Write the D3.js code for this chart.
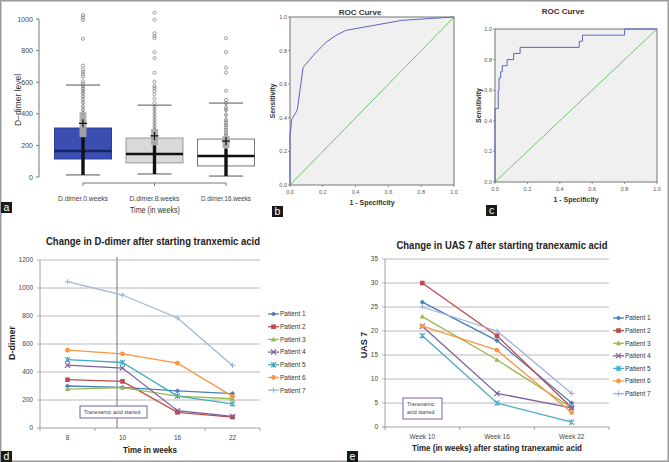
<!DOCTYPE html>
<html><head><meta charset="utf-8">
<script src="https://cdn.jsdelivr.net/npm/d3@7"></script>
<style>
html,body{margin:0;padding:0;background:#fff;}
svg{display:block;}
text{font-family:"Liberation Sans",Arial,sans-serif;}
</style></head>
<body>
<svg id="fig" width="669" height="462"></svg>
<script>
// ---------- DATA ----------
// Panel a: box plots of D-dimer
const boxCats = ["D.dimer.0.weeks","D.dimer.8.weeks","D.dimer.16.weeks"];
const boxQ1 = [114, 89, 70];
const boxMedian = [165, 146, 133];
const boxQ3 = [310, 247, 240];
const boxLow = [13, 19, 6];
const boxHigh = [582, 455, 468];
const boxMean = [340, 260, 227];
const boxCiLow = [253, 203, 183];
const boxCiHigh = [410, 304, 259];
const boxDenseTop = [250, 200, 180];
const boxPoints0 = [1025,1010,995,875,705,680,665,650,635,605,590,575,560,545,530,510,490,470,445,425,405,390,370,355,335,320,300,285,270];
const boxPoints1 = [1040,995,910,892,878,790,752,660,603,576,561,546,525,497,468,445,424,403,382,361,340,319,300,285,270,255,240,225,210];
const boxPoints2 = [878,790,692,661,546,487,468,440,424,392,361,345,329,313,297,280,265,250,235,220,205,190];
const boxAxisTicks = [0,200,400,600,800,1000];

// Panel b & c: ROC curves
const rocTicks = [0,0.2,0.4,0.6,0.8,1.0];
const rocB = [[0,0],[0,0.30],[0.005,0.33],[0.01,0.39],[0.035,0.43],[0.045,0.45],[0.08,0.70],[0.15,0.78],[0.22,0.85],[0.28,0.89],[0.34,0.92],[0.68,0.98],[1,1]];
const rocC = [[0,0],[0,0.48],[0.02,0.48],[0.02,0.60],[0.025,0.60],[0.025,0.68],[0.035,0.68],[0.035,0.72],[0.045,0.72],[0.045,0.76],[0.075,0.76],[0.075,0.80],[0.115,0.80],[0.115,0.84],[0.155,0.84],[0.155,0.88],[0.52,0.88],[0.52,0.92],[0.54,0.92],[0.54,0.96],[0.80,0.96],[0.80,1.0],[1,1]];

// Panel d: D-dimer per patient
const patients = ["Patient 1","Patient 2","Patient 3","Patient 4","Patient 5","Patient 6","Patient 7"];
const patientColors = ["#4a7ebb","#be4b48","#98b954","#7d60a0","#46aac5","#f79646","#9db5dd"];
const patientMarkers = ["diamond","square","triangle","cross","star","circle","plus"];
const dWeeks = ["8","10","16","22"];
const dP1 = [300, 290, 265, 246];
const dP2 = [345, 333, 112, 78];
const dP3 = [278, 289, 228, 209];
const dP4 = [449, 428, 124, 83];
const dP5 = [488, 468, 228, 173];
const dP6 = [556, 530, 463, 226];
const dP7 = [1045, 950, 786, 447];
const dTicks = [0,200,400,600,800,1000,1200];
const dStartIndex = 0.9; // tranexamic acid start (category index)

// Panel e: UAS 7 per patient
const eWeeks = ["Week 10","Week 16","Week 22"];
const eP1 = [26, 18, 5];
const eP2 = [30, 19, 4];
const eP3 = [23, 14, 4];
const eP4 = [21, 7, 4];
const eP5 = [19, 5, 1];
const eP6 = [21, 16, 3];
const eP7 = [25, 20, 7];
const eTicks = [0,5,10,15,20,25,30,35];

// ---------- DRAW ----------
const svg = d3.select("#fig");
svg.append("rect").attr("x",0.75).attr("y",0.75).attr("width",667.5).attr("height",460.5)
  .attr("fill","#fff").attr("stroke","#9a9a9a").attr("stroke-width",1.5);

function fit(sel, w){ sel.attr("textLength", w).attr("lengthAdjust","spacingAndGlyphs"); return sel; }
function panelLabel(x,y,ch){
  svg.append("rect").attr("x",x).attr("y",y).attr("width",11).attr("height",11).attr("fill","#1a1a1a");
  svg.append("text").attr("x",x+5.5).attr("y",y+9.2).attr("text-anchor","middle")
    .attr("font-size",10.5).attr("fill","#fff").text(ch);
}

// ===== Panel a =====
(function(){
  const g = svg.append("g");
  const ya = d3.scaleLinear().domain([0,1000]).range([177,19]);
  const xa = d3.scalePoint().domain(boxCats).range([83,226]);
  const narrow = "'Liberation Sans Narrow','Arial Narrow',sans-serif";
  // y axis
  g.append("line").attr("x1",39).attr("x2",39).attr("y1",ya(0)).attr("y2",ya(1000)).attr("stroke","#777");
  boxAxisTicks.forEach(t=>{
    g.append("line").attr("x1",36).attr("x2",39).attr("y1",ya(t)).attr("y2",ya(t)).attr("stroke","#777");
    g.append("text").attr("x",33).attr("y",ya(t)+2.5).attr("text-anchor","end").attr("font-size",7)
      .attr("font-family",narrow).attr("fill","#444").text(t);
  });
  g.append("text").attr("transform","translate(21,100) rotate(-90)").attr("text-anchor","middle")
    .attr("font-size",8.5).attr("font-family",narrow).attr("fill","#333").text("D−dimer level");
  // x axis
  g.append("line").attr("x1",xa(boxCats[0])).attr("x2",xa(boxCats[2])).attr("y1",183).attr("y2",183).attr("stroke","#777");
  boxCats.forEach(c=>{
    g.append("line").attr("x1",xa(c)).attr("x2",xa(c)).attr("y1",183).attr("y2",186).attr("stroke","#777");
    fit(g.append("text").attr("x",xa(c)).attr("y",201).attr("text-anchor","middle").attr("font-size",7)
      .attr("font-family",narrow).attr("fill","#444").text(c), 50);
  });
  fit(g.append("text").attr("x",155).attr("y",213).attr("text-anchor","middle").attr("font-size",9)
    .attr("font-family",narrow).attr("fill","#333").text("Time (in weeks)"), 50);

  const fills = ["#3b4fb3","#d9d9d9","#ffffff"];
  const strokes = ["#2e3d95","#9a9a9a","#777"];
  const medCol = ["#1b2163","#111","#111"];
  const pts = [boxPoints0, boxPoints1, boxPoints2];
  boxCats.forEach((c,i)=>{
    const cx = xa(c), bw = 57;
    // whisker line
    g.append("line").attr("x1",cx).attr("x2",cx).attr("y1",ya(boxLow[i])).attr("y2",ya(boxHigh[i])).attr("stroke","#888").attr("stroke-width",0.8);
    // box
    g.append("rect").attr("x",cx-bw/2).attr("y",ya(boxQ3[i])).attr("width",bw).attr("height",ya(boxQ1[i])-ya(boxQ3[i]))
      .attr("fill",fills[i]).attr("stroke",strokes[i]).attr("stroke-width",1);
    // caps
    [boxLow[i],boxHigh[i]].forEach(v=>{
      g.append("line").attr("x1",cx-17).attr("x2",cx+17).attr("y1",ya(v)).attr("y2",ya(v)).attr("stroke","#555").attr("stroke-width",1);
    });
    // median
    g.append("line").attr("x1",cx-bw/2).attr("x2",cx+bw/2).attr("y1",ya(boxMedian[i])).attr("y2",ya(boxMedian[i]))
      .attr("stroke",medCol[i]).attr("stroke-width",2.6);
    // points (sparse)
    pts[i].forEach(v=>{
      g.append("circle").attr("cx",cx).attr("cy",ya(v)).attr("r",1.6).attr("fill","none").attr("stroke","#777").attr("stroke-width",0.7);
    });
    // dense strip
    g.append("line").attr("x1",cx).attr("x2",cx).attr("y1",ya(boxLow[i])).attr("y2",ya(boxDenseTop[i]))
      .attr("stroke","#111").attr("stroke-width",3.4);
    // CI box
    g.append("rect").attr("x",cx-3.5).attr("y",ya(boxCiHigh[i])).attr("width",7).attr("height",ya(boxCiLow[i])-ya(boxCiHigh[i]))
      .attr("fill","#a9a9a9").attr("opacity",0.9);
    // mean +
    const my = ya(boxMean[i]);
    g.append("path").attr("d",`M${cx-4},${my}H${cx+4}M${cx},${my-4}V${my+4}`).attr("stroke","#111").attr("stroke-width",1.2);
  });
  panelLabel(1,202,"a");
})();

// ===== ROC panels =====
function rocPanel(x0,x1,y0,y1,data,titleX,titleY,xlabY,xtitleX,xtitleY,ylabX){
  const g = svg.append("g");
  const x = d3.scaleLinear().domain([0,1]).range([x0,x1]);
  const y = d3.scaleLinear().domain([0,1]).range([y1,y0]);
  g.append("rect").attr("x",x0).attr("y",y0).attr("width",x1-x0).attr("height",y1-y0)
    .attr("fill","#f0f0f0").attr("stroke","#555").attr("stroke-width",0.8);
  rocTicks.forEach(t=>{
    g.append("line").attr("x1",x(t)).attr("x2",x(t)).attr("y1",y1).attr("y2",y1+2).attr("stroke","#555").attr("stroke-width",0.6);
    g.append("line").attr("x1",x0-2).attr("x2",x0).attr("y1",y(t)).attr("y2",y(t)).attr("stroke","#555").attr("stroke-width",0.6);
    g.append("text").attr("x",x(t)).attr("y",xlabY).attr("text-anchor","middle").attr("font-size",5.5).attr("fill","#555").text(t.toFixed(1));
    g.append("text").attr("x",x0-3).attr("y",y(t)+2).attr("text-anchor","end").attr("font-size",5.5).attr("fill","#555").text(t.toFixed(1));
  });
  g.append("line").attr("x1",x(0)).attr("y1",y(0)).attr("x2",x(1)).attr("y2",y(1)).attr("stroke","#5cbf5c").attr("stroke-width",0.9);
  g.append("path").attr("d",d3.line().x(d=>x(d[0])).y(d=>y(d[1]))(data)).attr("fill","none").attr("stroke","#5b67c0").attr("stroke-width",1);
  g.append("text").attr("x",titleX).attr("y",titleY).attr("text-anchor","middle").attr("font-size",8).attr("font-weight","bold").attr("fill","#333").text("ROC Curve");
  g.append("text").attr("x",xtitleX).attr("y",xtitleY).attr("text-anchor","middle").attr("font-size",7).attr("font-weight","bold").attr("fill","#333").text("1 - Specificity");
  g.append("text").attr("transform",`translate(${ylabX},${(y0+y1)/2}) rotate(-90)`).attr("text-anchor","middle").attr("font-size",7).attr("font-weight","bold").attr("fill","#333").text("Sensitivity");
}
rocPanel(290,454,17,185,rocB,360,15,194,372,205,275);
panelLabel(272,206,"b");
rocPanel(495,657,29,182,rocC,563,14,191,576,202,481);
panelLabel(486,205,"c");

// ===== Marker helper =====
function marker(g,type,cx,cy,color){
  const s = 2.6;
  if(type==="diamond") g.append("path").attr("d",`M${cx},${cy-s}L${cx+s},${cy}L${cx},${cy+s}L${cx-s},${cy}Z`).attr("fill",color);
  else if(type==="square") g.append("rect").attr("x",cx-2.3).attr("y",cy-2.3).attr("width",4.6).attr("height",4.6).attr("fill",color);
  else if(type==="triangle") g.append("path").attr("d",`M${cx},${cy-s}L${cx+s},${cy+2}L${cx-s},${cy+2}Z`).attr("fill",color);
  else if(type==="cross") g.append("path").attr("d",`M${cx-s},${cy-s}L${cx+s},${cy+s}M${cx-s},${cy+s}L${cx+s},${cy-s}`).attr("stroke",color).attr("stroke-width",1.1);
  else if(type==="star") g.append("path").attr("d",`M${cx-s},${cy-s}L${cx+s},${cy+s}M${cx-s},${cy+s}L${cx+s},${cy-s}M${cx},${cy-s}V${cy+s}`).attr("stroke",color).attr("stroke-width",1.1);
  else if(type==="circle") g.append("circle").attr("cx",cx).attr("cy",cy).attr("r",2.4).attr("fill",color);
  else if(type==="plus") g.append("path").attr("d",`M${cx-s},${cy}H${cx+s}M${cx},${cy-s}V${cy+s}`).attr("stroke",color).attr("stroke-width",1.1);
}

const excelFont = "Lato,'Open Sans',sans-serif";

// ===== Panel d =====
(function(){
  const g = svg.append("g");
  const x = d3.scaleBand().domain(dWeeks).range([40,260]);
  const y = d3.scaleLinear().domain([0,1200]).range([428,260]);
  const cx = w => x(w)+x.bandwidth()/2;
  dTicks.forEach(t=>{
    g.append("line").attr("x1",37).attr("x2",260).attr("y1",y(t)).attr("y2",y(t)).attr("stroke",t===0?"#888":"#a8a8a8").attr("stroke-width",0.8);
    g.append("text").attr("x",33).attr("y",y(t)+2.3).attr("text-anchor","end").attr("font-size",6.5).attr("font-family",excelFont).attr("fill","#444").text(t);
  });
  g.append("line").attr("x1",40).attr("x2",40).attr("y1",y(1200)).attr("y2",y(0)).attr("stroke","#888").attr("stroke-width",0.8);
  d3.range(dWeeks.length+1).forEach(i=>{
    const xx = 40 + i*x.bandwidth();
    g.append("line").attr("x1",xx).attr("x2",xx).attr("y1",y(0)).attr("y2",y(0)+3).attr("stroke","#888").attr("stroke-width",0.8);
  });
  dWeeks.forEach(w=>{
    g.append("text").attr("x",cx(w)).attr("y",440).attr("text-anchor","middle").attr("font-size",6.5).attr("font-family",excelFont).attr("fill","#444").text(w);
  });
  // start line
  const sx = 40 + (dStartIndex+0.5)*x.bandwidth();
  g.append("line").attr("x1",sx).attr("x2",sx).attr("y1",257).attr("y2",y(0)).attr("stroke","#8a8a8a").attr("stroke-width",1.2);
  const series = [dP1,dP2,dP3,dP4,dP5,dP6,dP7];
  series.forEach((vals,i)=>{
    g.append("path").attr("d",d3.line().x((v,j)=>cx(dWeeks[j])).y(v=>y(v))(vals)).attr("fill","none").attr("stroke",patientColors[i]).attr("stroke-width",1.3);
  });
  series.forEach((vals,i)=>{
    vals.forEach((v,j)=>marker(g,patientMarkers[i],cx(dWeeks[j]),y(v),patientColors[i]));
  });
  // annotation box
  g.append("rect").attr("x",80).attr("y",406).attr("width",67).attr("height",12).attr("fill","#fff").attr("stroke","#7d60a0").attr("stroke-width",1);
  g.append("text").attr("x",84).attr("y",414).attr("font-size",5.3).attr("font-family",excelFont).attr("fill","#444").text("Tranexamic acid started");
  // titles
  fit(g.append("text").attr("x",153).attr("y",245).attr("text-anchor","middle").attr("font-size",11).attr("font-weight","bold").attr("font-family",excelFont).attr("fill","#222").text("Change in D-dimer after starting tranxemic acid"),214);
  fit(g.append("text").attr("x",150).attr("y",453).attr("text-anchor","middle").attr("font-size",9).attr("font-weight","bold").attr("font-family",excelFont).attr("fill","#222").text("Time in weeks"),54);
  g.append("text").attr("transform","translate(15,343) rotate(-90)").attr("text-anchor","middle").attr("font-size",9).attr("font-weight","bold").attr("font-family",excelFont).attr("fill","#222").text("D-dimer");
  // legend
  patients.forEach((p,i)=>{
    const ly = 314 + i*12.7;
    g.append("line").attr("x1",268).attr("x2",279).attr("y1",ly).attr("y2",ly).attr("stroke",patientColors[i]).attr("stroke-width",1.3);
    marker(g,patientMarkers[i],273.5,ly,patientColors[i]);
    g.append("text").attr("x",280).attr("y",ly+2.3).attr("font-size",6.5).attr("font-family",excelFont).attr("fill","#333").text(p);
  });
  panelLabel(1,451,"d");
})();

// ===== Panel e =====
(function(){
  const g = svg.append("g");
  const x = d3.scaleBand().domain(eWeeks).range([385,609]);
  const y = d3.scaleLinear().domain([0,35]).range([427,259]);
  const cx = w => x(w)+x.bandwidth()/2;
  eTicks.forEach(t=>{
    g.append("line").attr("x1",382).attr("x2",609).attr("y1",y(t)).attr("y2",y(t)).attr("stroke",t===0?"#888":"#a8a8a8").attr("stroke-width",0.8);
    g.append("text").attr("x",378).attr("y",y(t)+2.3).attr("text-anchor","end").attr("font-size",6.5).attr("font-family",excelFont).attr("fill","#444").text(t);
  });
  g.append("line").attr("x1",385).attr("x2",385).attr("y1",y(35)).attr("y2",y(0)).attr("stroke","#888").attr("stroke-width",0.8);
  d3.range(eWeeks.length+1).forEach(i=>{
    const xx = 385 + i*x.bandwidth();
    g.append("line").attr("x1",xx).attr("x2",xx).attr("y1",y(0)).attr("y2",y(0)+3).attr("stroke","#888").attr("stroke-width",0.8);
  });
  eWeeks.forEach(w=>{
    g.append("text").attr("x",cx(w)).attr("y",439).attr("text-anchor","middle").attr("font-size",6.5).attr("font-family",excelFont).attr("fill","#444").text(w);
  });
  const series = [eP1,eP2,eP3,eP4,eP5,eP6,eP7];
  series.forEach((vals,i)=>{
    g.append("path").attr("d",d3.line().x((v,j)=>cx(eWeeks[j])).y(v=>y(v))(vals)).attr("fill","none").attr("stroke",patientColors[i]).attr("stroke-width",1.3);
  });
  series.forEach((vals,i)=>{
    vals.forEach((v,j)=>marker(g,patientMarkers[i],cx(eWeeks[j]),y(v),patientColors[i]));
  });
  g.append("rect").attr("x",403).attr("y",398).attr("width",39).attr("height",21).attr("fill","#fff").attr("stroke","#7d60a0").attr("stroke-width",1);
  g.append("text").attr("x",407).attr("y",406).attr("font-size",5.3).attr("font-family",excelFont).attr("fill","#444").text("Tranexamic");
  g.append("text").attr("x",407).attr("y",414).attr("font-size",5.3).attr("font-family",excelFont).attr("fill","#444").text("acid started");
  fit(g.append("text").attr("x",502).attr("y",249).attr("text-anchor","middle").attr("font-size",11).attr("font-weight","bold").attr("font-family",excelFont).attr("fill","#222").text("Change in UAS 7 after starting tranexamic acid"),211);
  fit(g.append("text").attr("x",497).attr("y",451).attr("text-anchor","middle").attr("font-size",9).attr("font-weight","bold").attr("font-family",excelFont).attr("fill","#222").text("Time (in weeks) after stating tranexamic acid"),170);
  g.append("text").attr("transform","translate(367,345) rotate(-90)").attr("text-anchor","middle").attr("font-size",9).attr("font-weight","bold").attr("font-family",excelFont).attr("fill","#222").text("UAS 7");
  patients.forEach((p,i)=>{
    const ly = 318 + i*12.6;
    g.append("line").attr("x1",613).attr("x2",624).attr("y1",ly).attr("y2",ly).attr("stroke",patientColors[i]).attr("stroke-width",1.3);
    marker(g,patientMarkers[i],618.5,ly,patientColors[i]);
    g.append("text").attr("x",625).attr("y",ly+2.3).attr("font-size",6.5).attr("font-family",excelFont).attr("fill","#333").text(p);
  });
  panelLabel(347,451,"e");
})();
</script>
</body></html>
